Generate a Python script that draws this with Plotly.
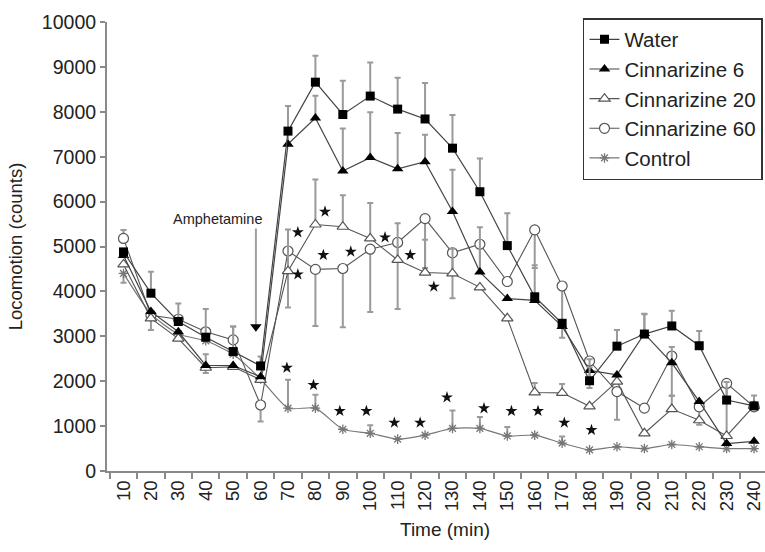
import plotly.graph_objects as go

# Time points (min) after start of session
minutes = list(range(10, 250, 10))

# Mean locomotion counts per 10-min bin
water = [4880, 3960, 3330, 2980, 2660, 2340, 7570, 8660, 7940, 8350, 8060, 7840,
         7190, 6220, 5020, 3880, 3290, 2010, 2780, 3050, 3230, 2790, 1580, 1450]
cinn6 = [4800, 3550, 3100, 2350, 2350, 2100, 7280, 7860, 6680, 6980, 6730, 6890,
         5780, 4430, 3840, 3800, 3220, 2240, 2140, 3060, 2410, 1550, 610, 660]
cinn20 = [4600, 3400, 2950, 2300, 2320, 2030, 4450, 5490, 5440, 5180, 4700, 4420,
          4400, 4090, 3400, 1750, 1740, 1440, 1990, 840, 1380, 1130, 780, 1450]
cinn60 = [5180, 3470, 3380, 3100, 2920, 1470, 4900, 4490, 4510, 4940, 5090, 5620,
          4860, 5050, 4220, 5370, 4120, 2450, 1770, 1400, 2560, 1430, 1950, 1430]
control = [4400, 3500, 3050, 2900, 2600, 2050, 1400, 1400, 930, 840, 710, 800,
           950, 950, 780, 800, 620, 470, 540, 500, 590, 540, 500, 500]

# SEM (upper / lower whiskers)
water_up = [0, 480, 400, 630, 560, 210, 560, 590, 750, 750, 700, 800,
            740, 740, 720, 700, 0, 300, 360, 450, 340, 330, 400, 0]
water_dn = [0] * 24
cinn6_up = [0, 0, 0, 0, 0, 0, 250, 500, 950, 1010, 800, 600,
            930, 1000, 0, 0, 0, 250, 0, 430, 350, 0, 0, 0]
cinn6_dn = [0] * 24
cinn20_up = [0, 0, 0, 300, 0, 0, 930, 1000, 700, 790, 820, 730,
             550, 0, 0, 210, 200, 0, 0, 0, 300, 0, 0, 0]
cinn20_dn = [0, 0, 0, 120, 0, 0, 0, 0, 0, 0, 0, 0,
             550, 0, 0, 0, 0, 0, 0, 0, 0, 0, 0, 0]
cinn60_up = [190, 0, 0, 0, 300, 0, 0, 0, 0, 0, 0, 0,
             0, 0, 0, 0, 0, 0, 0, 0, 0, 0, 0, 250]
cinn60_dn = [0, 0, 0, 0, 0, 370, 1260, 1260, 1310, 1400, 1480, 1100,
             500, 600, 0, 850, 1150, 600, 630, 0, 890, 400, 1200, 0]
control_up = [0, 0, 0, 0, 0, 0, 630, 300, 0, 180, 0, 0,
              400, 250, 200, 0, 150, 0, 0, 0, 0, 0, 0, 0]
control_dn = [210, 360, 0, 0, 0, 0, 0, 0, 0, 0, 0, 0,
              0, 0, 0, 0, 0, 0, 0, 0, 0, 0, 0, 0]

# Significance stars (x in min, y in counts)
star_x = [69.6, 79.3, 88.9, 98.6, 108.8, 118.2, 128.0, 141.5, 151.5, 161.2, 170.8, 180.7,
          73.6, 73.6, 83.5, 82.9, 92.9, 105.4, 114.6, 123.2]
star_y = [2300, 1915, 1336, 1336, 1076, 1076, 1640, 1396, 1336, 1336, 1076, 913,
          5316, 4380, 5776, 4811, 4885, 5204, 4811, 4105]

# Amphetamine injection marker
amph_x = 58.3
amph_top = 5400
amph_tip = 3210

FONT = "Liberation Sans, Arial, sans-serif"
TXT = "#222222"
AX = "#8a8a8a"
LINE = "#555555"
ERR = "#9a9a9a"


def err(up, dn):
    return dict(type="data", symmetric=False, array=up, arrayminus=dn,
                color=ERR, thickness=2, width=3)


fig = go.Figure()

fig.add_trace(go.Scatter(
    x=minutes, y=control, name="Control", legendrank=5,
    mode="lines+markers", line=dict(color="#777777", width=1.2, shape="spline", smoothing=0.6),
    marker=dict(symbol="asterisk-open", size=8, line=dict(color="#666666", width=1.3)),
    error_y=err(control_up, control_dn)))

fig.add_trace(go.Scatter(
    x=minutes, y=cinn60, name="Cinnarizine 60", legendrank=4,
    mode="lines+markers", line=dict(color=LINE, width=1.1),
    marker=dict(symbol="circle", size=10, color="white", line=dict(color="#555555", width=1.2)),
    error_y=err(cinn60_up, cinn60_dn)))

fig.add_trace(go.Scatter(
    x=minutes, y=cinn20, name="Cinnarizine 20", legendrank=3,
    mode="lines+markers", line=dict(color=LINE, width=1.1),
    marker=dict(symbol="triangle-up", size=10, color="white", line=dict(color="#555555", width=1.2)),
    error_y=err(cinn20_up, cinn20_dn)))

fig.add_trace(go.Scatter(
    x=minutes, y=cinn6, name="Cinnarizine 6", legendrank=2,
    mode="lines+markers", line=dict(color="#444444", width=1.2),
    marker=dict(symbol="triangle-up", size=10, color="black"),
    error_y=err(cinn6_up, cinn6_dn)))

fig.add_trace(go.Scatter(
    x=minutes, y=water, name="Water", legendrank=1,
    mode="lines+markers", line=dict(color="#444444", width=1.2),
    marker=dict(symbol="square", size=9, color="black"),
    error_y=err(water_up, water_dn)))

fig.add_trace(go.Scatter(
    x=star_x, y=star_y, mode="markers", showlegend=False, hoverinfo="skip",
    marker=dict(symbol="star", size=9, color="#111111")))

# arrow shaft and head
fig.add_shape(type="line", xref="x", yref="y", x0=amph_x, x1=amph_x,
              y0=amph_top, y1=amph_tip, layer="below",
              line=dict(color="#a0a0a0", width=2))
fig.add_trace(go.Scatter(
    x=[amph_x], y=[amph_tip], mode="markers", showlegend=False, hoverinfo="skip",
    marker=dict(symbol="triangle-down", size=10, color="black")))

fig.add_annotation(x=44.3, y=5612, xref="x", yref="y", text="Amphetamine",
                   showarrow=False, font=dict(family=FONT, size=14.5, color=TXT))

fig.add_annotation(x=0.514, y=-0.1314, xref="paper", yref="paper", text="Time (min)",
                   showarrow=False, yanchor="middle",
                   font=dict(family=FONT, size=19, color=TXT))

fig.update_layout(
    width=765, height=552,
    margin=dict(l=107, r=0, t=22, b=81, autoexpand=False),
    paper_bgcolor="white", plot_bgcolor="white",
    font=dict(family=FONT, size=18.5, color=TXT),
    showlegend=True,
    legend=dict(x=0.7234, y=1.0089, xanchor="left", yanchor="top",
                bgcolor="white", bordercolor="#333333", borderwidth=1.5,
                font=dict(family=FONT, size=20.5, color=TXT), traceorder="normal"),
    xaxis=dict(range=[3.98, 244.0], tickmode="array", tickvals=minutes,
               ticktext=[str(m) for m in minutes], tickangle=-90, ticks="",
               ticklabeloverflow="allow",
               showgrid=False, zeroline=False, showline=True,
               linecolor=AX, linewidth=2,
               tickfont=dict(family=FONT, size=18.5, color=TXT),
               minor=dict(tick0=5, dtick=10, ticks="outside", ticklen=6,
                          tickcolor=AX, tickwidth=1.5, showgrid=False)),
    yaxis=dict(range=[0, 10000], dtick=1000, tickformat="d", ticks="outside", ticklen=5,
               tickcolor=AX, tickwidth=1.5, showgrid=False, zeroline=False,
               showline=True, linecolor=AX, linewidth=2,
               tickfont=dict(family=FONT, size=19.5, color=TXT),
               title=dict(text="Locomotion (counts)", standoff=14,
                          font=dict(family=FONT, size=18.5, color=TXT))),
)

fig.write_html("out.html")
